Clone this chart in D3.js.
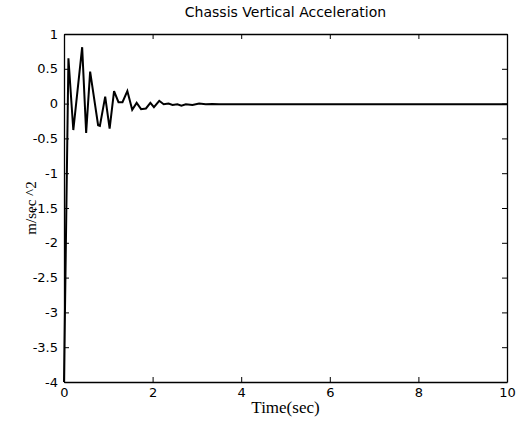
<!DOCTYPE html>
<html>
<head>
<meta charset="utf-8">
<script src="https://cdn.jsdelivr.net/npm/d3@7"></script>
<style>
  body { margin: 0; background: #fff; }
  .tick text { font-family: "DejaVu Sans", sans-serif; font-size: 13px; fill: #000; }
</style>
</head>
<body>
<div id="chart-container"></div>
<script>
// data
const time = [0, 0.1, 0.21, 0.41, 0.5, 0.59, 0.77, 0.81, 0.93, 1.03, 1.13, 1.23, 1.32, 1.43, 1.54, 1.64,
  1.74, 1.85, 1.95, 2.03, 2.15, 2.25, 2.36, 2.45, 2.56, 2.65, 2.75, 2.9, 3.05, 3.2, 3.35, 3.5, 4, 10];
const accel = [-4, 0.65, -0.38, 0.81, -0.42, 0.46, -0.31, -0.32, 0.1, -0.36, 0.18, 0.02, 0.02, 0.18, -0.09, 0.01,
  -0.08, -0.07, 0.01, -0.05, 0.04, -0.01, 0, -0.02, -0.01, -0.03, -0.01, -0.02, 0, -0.01, -0.005, -0.01, -0.01, -0.01];
const xTicks = [0, 2, 4, 6, 8, 10];
const yTicks = [1, 0.5, 0, -0.5, -1, -1.5, -2, -2.5, -3, -3.5, -4];

const dataset = time.map((t, i) => ({ t: t, v: accel[i] }));

//dimensions
const margin = { top: 34, right: 17, bottom: 46, left: 64 };
const width = 524 - margin.left - margin.right;
const height = 428 - margin.top - margin.bottom;

const x = d3.scaleLinear().domain([0, 10]).range([0, width]);
const y = d3.scaleLinear().domain([-4, 1]).range([height, 0]);

const svg = d3.select("#chart-container")
  .append("svg")
    .attr("width", 524)
    .attr("height", 428)
  .append("g")
    .attr("transform", `translate(${margin.left}, ${margin.top})`);

// line first, frame on top
const line = d3.line()
  .x(d => x(d.t))
  .y(d => y(d.v));

svg.append("path")
  .datum(dataset)
  .attr("fill", "none")
  .attr("stroke", "#000")
  .attr("stroke-width", 2)
  .attr("stroke-linejoin", "miter")
  .attr("d", line);

// plain hyphen for negatives, like the original
const plain = d => String(d);

//axes, ticks pointing in like matlab
svg.append("g")
  .attr("transform", `translate(0, ${height})`)
  .call(d3.axisBottom(x).tickValues(xTicks).tickSizeInner(-5).tickSizeOuter(0).tickPadding(6).tickFormat(plain));

svg.append("g")
  .call(d3.axisTop(x).tickValues(xTicks).tickSizeInner(-5).tickSizeOuter(0).tickFormat(""));

svg.append("g")
  .call(d3.axisLeft(y).tickValues(yTicks).tickSizeInner(-5).tickSizeOuter(0).tickPadding(6).tickFormat(plain));

svg.append("g")
  .attr("transform", `translate(${width}, 0)`)
  .call(d3.axisRight(y).tickValues(yTicks).tickSizeInner(-5).tickSizeOuter(0).tickFormat(""));

svg.selectAll(".domain").attr("stroke", "#000").attr("stroke-width", 1.3);
svg.selectAll(".tick line").attr("stroke", "#000");

// title
svg.append("text")
  .attr("x", width / 2)
  .attr("y", -17)
  .attr("text-anchor", "middle")
  .style("font-family", "DejaVu Sans, sans-serif")
  .style("font-size", "14px")
  .text("Chassis Vertical Acceleration");

// axis labels
svg.append("text")
  .attr("x", width / 2)
  .attr("y", height + 31)
  .attr("text-anchor", "middle")
  .style("font-family", "Liberation Serif, serif")
  .style("font-size", "17px")
  .text("Time(sec)");

svg.append("text")
  .attr("transform", `translate(${-28}, ${height / 2}) rotate(-90)`)
  .attr("text-anchor", "middle")
  .style("font-family", "Liberation Serif, serif")
  .style("font-size", "15px")
  .text("m/sec ^2");
</script>
</body>
</html>
